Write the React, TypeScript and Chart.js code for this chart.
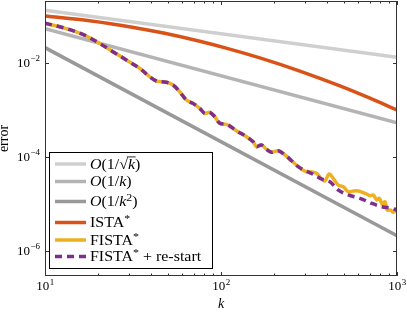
import React, { useEffect, useRef } from "react";
import { Chart, registerables } from "chart.js";

Chart.register(...registerables);

// ---- data ----
const refK = [10, 1000];
const sqrtRefErr = [0.129, 0.0129];
const invKRefErr = [0.0524, 0.000524];
const invK2RefErr = [0.0207, 0.00000207];

const istaK = [10, 17.92, 31.89, 47.86, 75.7, 112.1, 166.2, 280.6, 474, 702, 1000];
const istaErr = [0.0975, 0.0775, 0.0558, 0.04175, 0.02832, 0.0193, 0.01256, 0.00658, 0.00318, 0.00174, 0.000976];

const sharedK = [
  10, 12.09, 14.39, 17.16, 20.42, 24.31, 28.97, 34.49, 39.32, 42.93, 48.93, 53.36, 58.27,
  63.62, 69.34, 75.7, 80.83, 86.3, 92.14, 98.4, 107.4, 112.2, 122.4, 139.6, 152.2, 159.1,
  169.9, 181.4, 193.6, 211.2, 230.5, 251.7, 274.5,
];
const sharedErr = [
  0.0682, 0.0578, 0.0475, 0.0366, 0.0256, 0.017, 0.0113, 0.00753, 0.00499, 0.00404, 0.00379,
  0.00332, 0.00239, 0.00159, 0.00135, 0.00106, 0.00083, 0.000872, 0.000703, 0.000509,
  0.000484, 0.000446, 0.000354, 0.000264, 0.000206, 0.000162, 0.000176, 0.000142, 0.000123,
  0.000133, 0.000108, 8.14e-5, 6.07e-5,
];

const fistaTailK = [
  299.6, 319.9, 349.2, 372.9, 389.3, 411.9, 434.1, 463.5, 494.9, 528.4, 564.1, 602.3, 657.6,
  702.2, 733.2, 766.5, 793.1, 829.0, 854.4, 880.6, 920.9, 952.8, 1000,
];
const fistaTailErr = [
  4.91e-5, 4.75e-5, 4.39e-5, 3.32e-5, 3.01e-5, 4.24e-5, 3.44e-5, 2.48e-5, 2.28e-5, 1.78e-5,
  1.85e-5, 1.85e-5, 1.65e-5, 1.47e-5, 1.52e-5, 1.19e-5, 1.29e-5, 9.29e-6, 1.09e-5, 7.27e-6,
  7.27e-6, 6.5e-6, 7.91e-6,
];

const restartTailK = [299.6, 334.1, 372.9, 415.8, 463.5, 528.4, 615.9, 717.8, 818.4, 933, 1000];
const restartTailErr = [
  5.04e-5, 4.18e-5, 3.32e-5, 2.91e-5, 1.94e-5, 1.52e-5, 1.29e-5, 1.01e-5, 8.55e-6, 7.91e-6,
  7.27e-6,
];

const fistaK = [...sharedK, ...fistaTailK];
const fistaErr = [...sharedErr, ...fistaTailErr];
const restartK = [...sharedK, ...restartTailK];
const restartErr = [...sharedErr, ...restartTailErr];

const xTicks = [10, 100, 1000];
const xTickExp = ["1", "2", "3"];
const xMinorTicks = [20, 30, 40, 50, 60, 70, 80, 90, 200, 300, 400, 500, 600, 700, 800, 900];
const yTicks = [1e-2, 1e-4, 1e-6];
const yTickExp = ["\u22122", "\u22124", "\u22126"];

const xLabel = "k";
const yLabel = "error";

const COLORS = {
  sqrt: "#cfcfcf",
  invK: "#b4b4b4",
  invK2: "#999999",
  ista: "#d95319",
  fista: "#edb120",
  restart: "#7e2f8e",
};

type Seg = { t: string; it?: boolean; sup?: boolean; over?: boolean };

const legendItems: { segs: Seg[]; color: string; dash?: number[] }[] = [
  {
    segs: [{ t: "O", it: true }, { t: "(1/" }, { t: "\u221A" }, { t: "k", it: true, over: true }, { t: ")" }],
    color: COLORS.sqrt,
  },
  { segs: [{ t: "O", it: true }, { t: "(1/" }, { t: "k", it: true }, { t: ")" }], color: COLORS.invK },
  {
    segs: [{ t: "O", it: true }, { t: "(1/" }, { t: "k", it: true }, { t: "2", sup: true }, { t: ")" }],
    color: COLORS.invK2,
  },
  { segs: [{ t: "ISTA" }, { t: "*", sup: true }], color: COLORS.ista },
  { segs: [{ t: "FISTA" }, { t: "*", sup: true }], color: COLORS.fista },
  {
    segs: [{ t: "FISTA" }, { t: "*", sup: true }, { t: " + re-start" }],
    color: COLORS.restart,
    dash: [7, 5],
  },
];

const FONT = '"Liberation Serif", "Times New Roman", serif';

function pts(xs: number[], ys: number[]) {
  return xs.map((x, i) => ({ x, y: ys[i] }));
}

function drawSegs(ctx: CanvasRenderingContext2D, segs: Seg[], x: number, y: number, size: number) {
  let cx = x;
  for (const s of segs) {
    const fs = s.sup ? size * 0.75 : size;
    ctx.font = `${s.it ? "italic " : ""}${fs}px ${FONT}`;
    const dy = s.sup ? -size * 0.36 : 0;
    ctx.fillText(s.t, cx, y + dy);
    const w = ctx.measureText(s.t).width;
    if (s.over) {
      ctx.save();
      ctx.lineWidth = 0.8;
      ctx.strokeStyle = "#000";
      ctx.beginPath();
      ctx.moveTo(cx - 1, y - size * 0.82);
      ctx.lineTo(cx + w + 0.5, y - size * 0.82);
      ctx.stroke();
      ctx.restore();
    }
    cx += w;
  }
  return cx - x;
}

const framePlugin = {
  id: "frame",
  afterDraw(chart: any) {
    const ctx: CanvasRenderingContext2D = chart.ctx;
    const { left, right, top, bottom } = chart.chartArea;
    const xs = chart.scales.x;
    const ys = chart.scales.y;
    ctx.save();
    // frame
    ctx.strokeStyle = "#333";
    ctx.lineWidth = 1;
    ctx.strokeRect(left + 0.5, top + 0.5, right - left - 1, bottom - top - 1);
    // ticks (inward)
    ctx.beginPath();
    for (const v of xTicks) {
      const px = Math.round(xs.getPixelForValue(v)) + 0.5;
      ctx.moveTo(px, bottom);
      ctx.lineTo(px, bottom - 4);
      ctx.moveTo(px, top);
      ctx.lineTo(px, top + 4);
    }
    for (const v of xMinorTicks) {
      const px = Math.round(xs.getPixelForValue(v)) + 0.5;
      ctx.moveTo(px, bottom);
      ctx.lineTo(px, bottom - 2.5);
      ctx.moveTo(px, top);
      ctx.lineTo(px, top + 2.5);
    }
    for (const v of yTicks) {
      const py = Math.round(ys.getPixelForValue(v)) + 0.5;
      ctx.moveTo(left, py);
      ctx.lineTo(left + 4, py);
      ctx.moveTo(right, py);
      ctx.lineTo(right - 4, py);
    }
    ctx.stroke();

    // tick labels
    ctx.fillStyle = "#000";
    ctx.textBaseline = "alphabetic";
    ctx.textAlign = "left";
    xTicks.forEach((v, i) => {
      const px = xs.getPixelForValue(v);
      ctx.font = `13px ${FONT}`;
      const w1 = ctx.measureText("10").width;
      ctx.font = `9px ${FONT}`;
      const w2 = ctx.measureText(xTickExp[i]).width;
      const x0 = px - (w1 + w2) / 2;
      ctx.font = `13px ${FONT}`;
      ctx.fillText("10", x0, 290);
      ctx.font = `9px ${FONT}`;
      ctx.fillText(xTickExp[i], x0 + w1 + 0.5, 284.5);
    });
    yTicks.forEach((v, i) => {
      const py = ys.getPixelForValue(v);
      ctx.font = `13px ${FONT}`;
      const w1 = ctx.measureText("10").width;
      ctx.font = `9px ${FONT}`;
      const w2 = ctx.measureText(yTickExp[i]).width;
      const x0 = 40 - w1 - w2 - 0.5;
      ctx.font = `13px ${FONT}`;
      ctx.fillText("10", x0, py + 4.5);
      ctx.font = `9px ${FONT}`;
      ctx.fillText(yTickExp[i], x0 + w1 + 0.5, py - 1.5);
    });

    // axis titles
    ctx.font = `italic 14px ${FONT}`;
    ctx.textAlign = "center";
    ctx.fillText(xLabel, (left + right) / 2, 308);
    ctx.save();
    ctx.translate(8, (top + bottom) / 2);
    ctx.rotate(-Math.PI / 2);
    ctx.font = `14px ${FONT}`;
    ctx.fillText(yLabel, 0, 0);
    ctx.restore();

    // legend
    const bx = 49.5, by = 152.5, bw = 163, bh = 116;
    ctx.fillStyle = "#fff";
    ctx.fillRect(bx, by, bw, bh);
    ctx.strokeStyle = "#000";
    ctx.lineWidth = 1;
    ctx.strokeRect(bx, by, bw, bh);
    const rows = [164, 181.5, 201.5, 222.5, 240, 256.5];
    ctx.textAlign = "left";
    legendItems.forEach((it, i) => {
      const ry = rows[i];
      ctx.save();
      ctx.strokeStyle = it.color;
      ctx.lineWidth = 3.5;
      ctx.setLineDash(it.dash || []);
      ctx.beginPath();
      ctx.moveTo(55, ry);
      ctx.lineTo(86, ry);
      ctx.stroke();
      ctx.restore();
      ctx.save();
      ctx.fillStyle = "#000";
      ctx.translate(90, ry + 4.8);
      ctx.scale(1.1, 1);
      drawSegs(ctx, it.segs, 0, 0, 14.5);
      ctx.restore();
    });
    ctx.restore();
  },
};

export default function App() {
  const ref = useRef<HTMLCanvasElement | null>(null);
  useEffect(() => {
    document.body.style.margin = "0";
    const canvas = ref.current!;
    const line = (data: any, color: string, order: number, extra: any = {}) => ({
      data,
      borderColor: color,
      backgroundColor: color,
      borderWidth: 3.5,
      pointRadius: 0,
      fill: false,
      order,
      ...extra,
    });
    const chart = new Chart(canvas, {
      type: "line",
      data: {
        datasets: [
          line(pts(refK, sqrtRefErr), COLORS.sqrt, 5, { tension: 0 }),
          line(pts(refK, invKRefErr), COLORS.invK, 4, { tension: 0 }),
          line(pts(refK, invK2RefErr), COLORS.invK2, 3, { tension: 0 }),
          line(pts(istaK, istaErr), COLORS.ista, 2, { cubicInterpolationMode: "monotone" }),
          line(pts(fistaK, fistaErr), COLORS.fista, 1, { tension: 0.35 }),
          line(pts(restartK, restartErr), COLORS.restart, 0, { tension: 0.35, borderDash: [7, 5] }),
        ],
      },
      options: {
        animation: false,
        responsive: false,
        events: [],
        layout: { padding: { top: 1, right: 10, left: 0, bottom: 0 } },
        plugins: { legend: { display: false }, tooltip: { enabled: false } },
        scales: {
          x: {
            type: "logarithmic",
            min: 10,
            max: 1000,
            grid: { display: false },
            border: { display: false },
            ticks: { display: false },
            afterBuildTicks: (s: any) => {
              s.ticks = xTicks.map((v) => ({ value: v }));
            },
            afterFit: (s: any) => {
              s.height = 38;
            },
          },
          y: {
            type: "logarithmic",
            min: 2.87e-7,
            max: 0.2035,
            grid: { display: false },
            border: { display: false },
            ticks: { display: false },
            afterBuildTicks: (s: any) => {
              s.ticks = yTicks.map((v) => ({ value: v }));
            },
            afterFit: (s: any) => {
              s.width = 45;
            },
          },
        },
      } as any,
      plugins: [framePlugin],
    });
    return () => chart.destroy();
  }, []);
  return (
    <div style={{ position: "absolute", left: 0, top: 0, width: 407, height: 314 }}>
      <canvas ref={ref} width={407} height={314} style={{ display: "block" }} />
    </div>
  );
}
